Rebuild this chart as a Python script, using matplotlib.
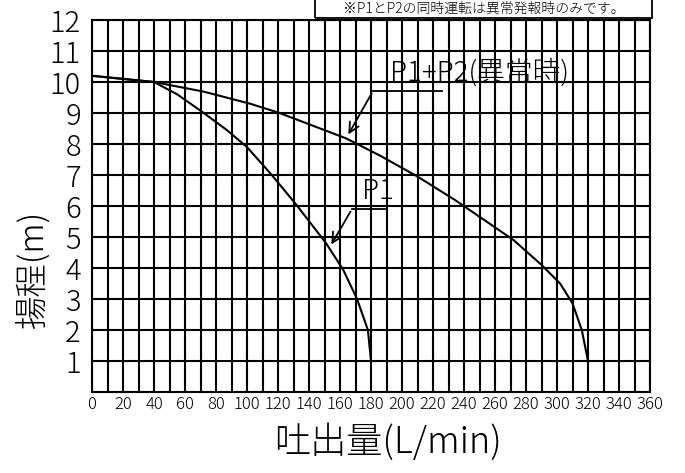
import numpy as np
import matplotlib
matplotlib.use("Agg")
import matplotlib.pyplot as plt
from matplotlib.patches import Rectangle

plt.rcParams['font.family'] = ['Noto Sans CJK JP', 'DejaVu Sans']
plt.rcParams['font.weight'] = 'light'
plt.rcParams['axes.labelweight'] = 'light'

# pump curves (flow L/min, head m)
flow_p1 = [0, 20, 40, 55, 71, 87, 100, 116, 132, 151, 162, 171, 178, 180]
head_p1 = [10.2, 10.1, 10.0, 9.6, 9.04, 8.45, 7.9, 7.0, 6.03, 4.8, 3.95, 3.0, 2.0, 1.0]

flow_p12 = [0, 20, 40, 72, 102, 121, 164, 186, 210, 234, 272, 290, 302, 310, 316, 320]
head_p12 = [10.2, 10.1, 10.0, 9.69, 9.3, 9.0, 8.18, 7.62, 6.95, 6.2, 4.9, 4.1, 3.5, 2.86, 2.0, 1.0]

x_ticks = list(range(0, 361, 20))
y_ticks = list(range(1, 13))

fig = plt.figure(figsize=(6.85, 4.73), dpi=100)
ax = fig.add_axes([92 / 685, 81 / 473, 558 / 685, 372 / 473])

lw = 1.5
ax.plot(flow_p12, head_p12, color='black', lw=lw, zorder=3)
ax.plot(flow_p1, head_p1, color='black', lw=lw, zorder=3)

ax.set_xlim(0, 360)
ax.set_ylim(0, 12)
ax.set_xticks(x_ticks)
ax.set_xticks(range(0, 361, 10), minor=True)
ax.set_yticks(y_ticks)
ax.grid(True, which='both', color='black', lw=lw)
ax.tick_params(which='both', length=0)
ax.tick_params(axis='x', labelsize=12, pad=3)
ax.tick_params(axis='y', labelsize=21, pad=8)
for s in ax.spines.values():
    s.set_linewidth(lw)

ax.set_xlabel('吐出量(L/min)', fontsize=26)
ax.xaxis.set_label_coords(0.53, -0.085)
ax.set_ylabel('揚程(m)', fontsize=24)
ax.yaxis.set_label_coords(-0.075, 0.33)

# leaders
arrow = dict(arrowstyle='->', color='black', lw=1.3, mutation_scale=18)
ax.annotate('', xy=(164.5, 8.23), xytext=(181.3, 9.71), arrowprops=arrow, zorder=4)
ax.plot([181.3, 225.8], [9.71, 9.71], color='black', lw=1.3, zorder=4)
ax.text(192.3, 9.85, 'P1+P2(異常時)', fontsize=20, ha='left', va='bottom', zorder=4)

ax.annotate('', xy=(153.5, 4.68), xytext=(167.7, 5.9), arrowprops=arrow, zorder=4)
ax.plot([167.7, 189.0], [5.9, 5.9], color='black', lw=1.3, zorder=4)
ax.text(174.2, 6.02, 'P1', fontsize=20, ha='left', va='bottom', zorder=4)

# note box at the top of the sheet
fig.patches.append(Rectangle((315 / 685, 1 - 18 / 473), 337 / 685, 0.1,
                             transform=fig.transFigure, fill=False,
                             edgecolor='black', lw=1.3))
fig.text(484 / 685, 1 - 9 / 473, '※P1とP2の同時運転は異常発報時のみです。',
         fontsize=10, ha='center', va='center')

fig.savefig('out.png', dpi=100)
